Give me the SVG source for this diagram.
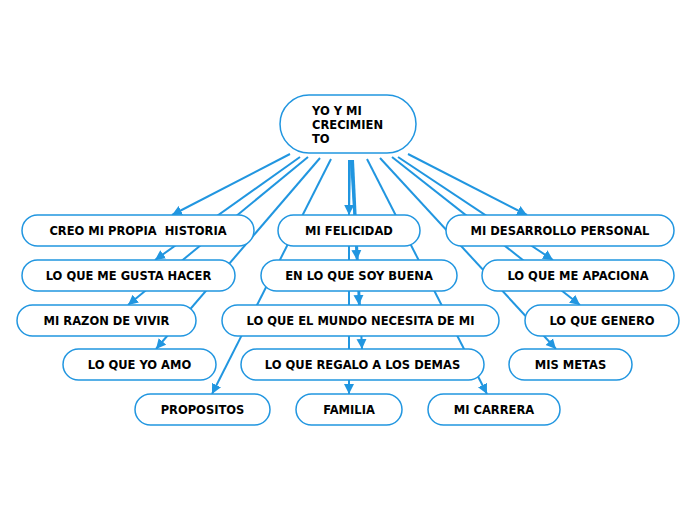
<svg xmlns="http://www.w3.org/2000/svg" width="696" height="520" viewBox="0 0 696 520">
<style>
.n rect{fill:#fff;stroke:#2196e0;stroke-width:1.5}
.n text{font-family:"DejaVu Sans",Verdana,sans-serif;font-weight:bold;font-size:11.5px;fill:#000;text-anchor:middle;white-space:pre}
.c line{stroke:#2196e0;stroke-width:2;marker-end:url(#a)}
</style>
<defs>
<marker id="a" markerUnits="userSpaceOnUse" markerWidth="11" markerHeight="11" refX="10" refY="5.5" orient="auto"><path d="M0,0.5 L10,5.5 L0,10.5 z" fill="#2196e0"/></marker>
</defs>
<rect width="696" height="520" fill="#fff"/>
<g id="connectors" class="c">
<line x1="290" y1="154" x2="172" y2="215"/>
<line x1="300" y1="157" x2="155" y2="260"/>
<line x1="308" y1="157" x2="128" y2="305"/>
<line x1="320" y1="158" x2="156" y2="349"/>
<line x1="331" y1="159" x2="212" y2="394"/>
<line x1="349" y1="160" x2="349" y2="394"/>
<line x1="350" y1="160" x2="349" y2="215"/>
<line x1="351" y1="160" x2="357" y2="260"/>
<line x1="352" y1="160" x2="359" y2="305"/>
<line x1="353" y1="160" x2="362" y2="349"/>
<line x1="408" y1="154" x2="527" y2="215"/>
<line x1="398" y1="157" x2="553" y2="260"/>
<line x1="392" y1="157" x2="580" y2="305"/>
<line x1="380" y1="158" x2="556" y2="349"/>
<line x1="367" y1="159" x2="487" y2="394"/>
</g>
<g id="root" class="n"><rect x="280" y="95" width="136" height="58" rx="29"/>
<text style="text-anchor:start"><tspan x="312" y="115">YO Y MI</tspan><tspan x="312" y="129">CRECIMIEN</tspan><tspan x="312" y="143">TO</tspan></text></g>
<g id="n1" class="n"><rect x="22" y="215" width="232" height="31" rx="15.5"/><text x="138" y="235">CREO MI PROPIA  HISTORIA</text></g>
<g id="n2" class="n"><rect x="278" y="215" width="142" height="31" rx="15.5"/><text x="349" y="235">MI FELICIDAD</text></g>
<g id="n3" class="n"><rect x="446" y="215" width="228" height="31" rx="15.5"/><text x="560" y="235">MI DESARROLLO PERSONAL</text></g>
<g id="n4" class="n"><rect x="22" y="260" width="213" height="31" rx="15.5"/><text x="128.5" y="280">LO QUE ME GUSTA HACER</text></g>
<g id="n5" class="n"><rect x="261" y="260" width="196" height="31" rx="15.5"/><text x="359" y="280">EN LO QUE SOY BUENA</text></g>
<g id="n6" class="n"><rect x="482" y="260" width="192" height="31" rx="15.5"/><text x="578" y="280">LO QUE ME APACIONA</text></g>
<g id="n7" class="n"><rect x="17" y="305" width="179" height="31" rx="15.5"/><text x="106.5" y="325">MI RAZON DE VIVIR</text></g>
<g id="n8" class="n"><rect x="222" y="305" width="277" height="31" rx="15.5"/><text x="360.5" y="325">LO QUE EL MUNDO NECESITA DE MI</text></g>
<g id="n9" class="n"><rect x="525" y="305" width="154" height="31" rx="15.5"/><text x="602" y="325">LO QUE GENERO</text></g>
<g id="n10" class="n"><rect x="63" y="349" width="153" height="31" rx="15.5"/><text x="139.5" y="369">LO QUE YO AMO</text></g>
<g id="n11" class="n"><rect x="241" y="349" width="243" height="31" rx="15.5"/><text x="362.5" y="369">LO QUE REGALO A LOS DEMAS</text></g>
<g id="n12" class="n"><rect x="509" y="349" width="123" height="31" rx="15.5"/><text x="570.5" y="369">MIS METAS</text></g>
<g id="n13" class="n"><rect x="135" y="394" width="135" height="31" rx="15.5"/><text x="202.5" y="414">PROPOSITOS</text></g>
<g id="n14" class="n"><rect x="296" y="394" width="106" height="31" rx="15.5"/><text x="349" y="414">FAMILIA</text></g>
<g id="n15" class="n"><rect x="428" y="394" width="132" height="31" rx="15.5"/><text x="494" y="414">MI CARRERA</text></g>
</svg>
